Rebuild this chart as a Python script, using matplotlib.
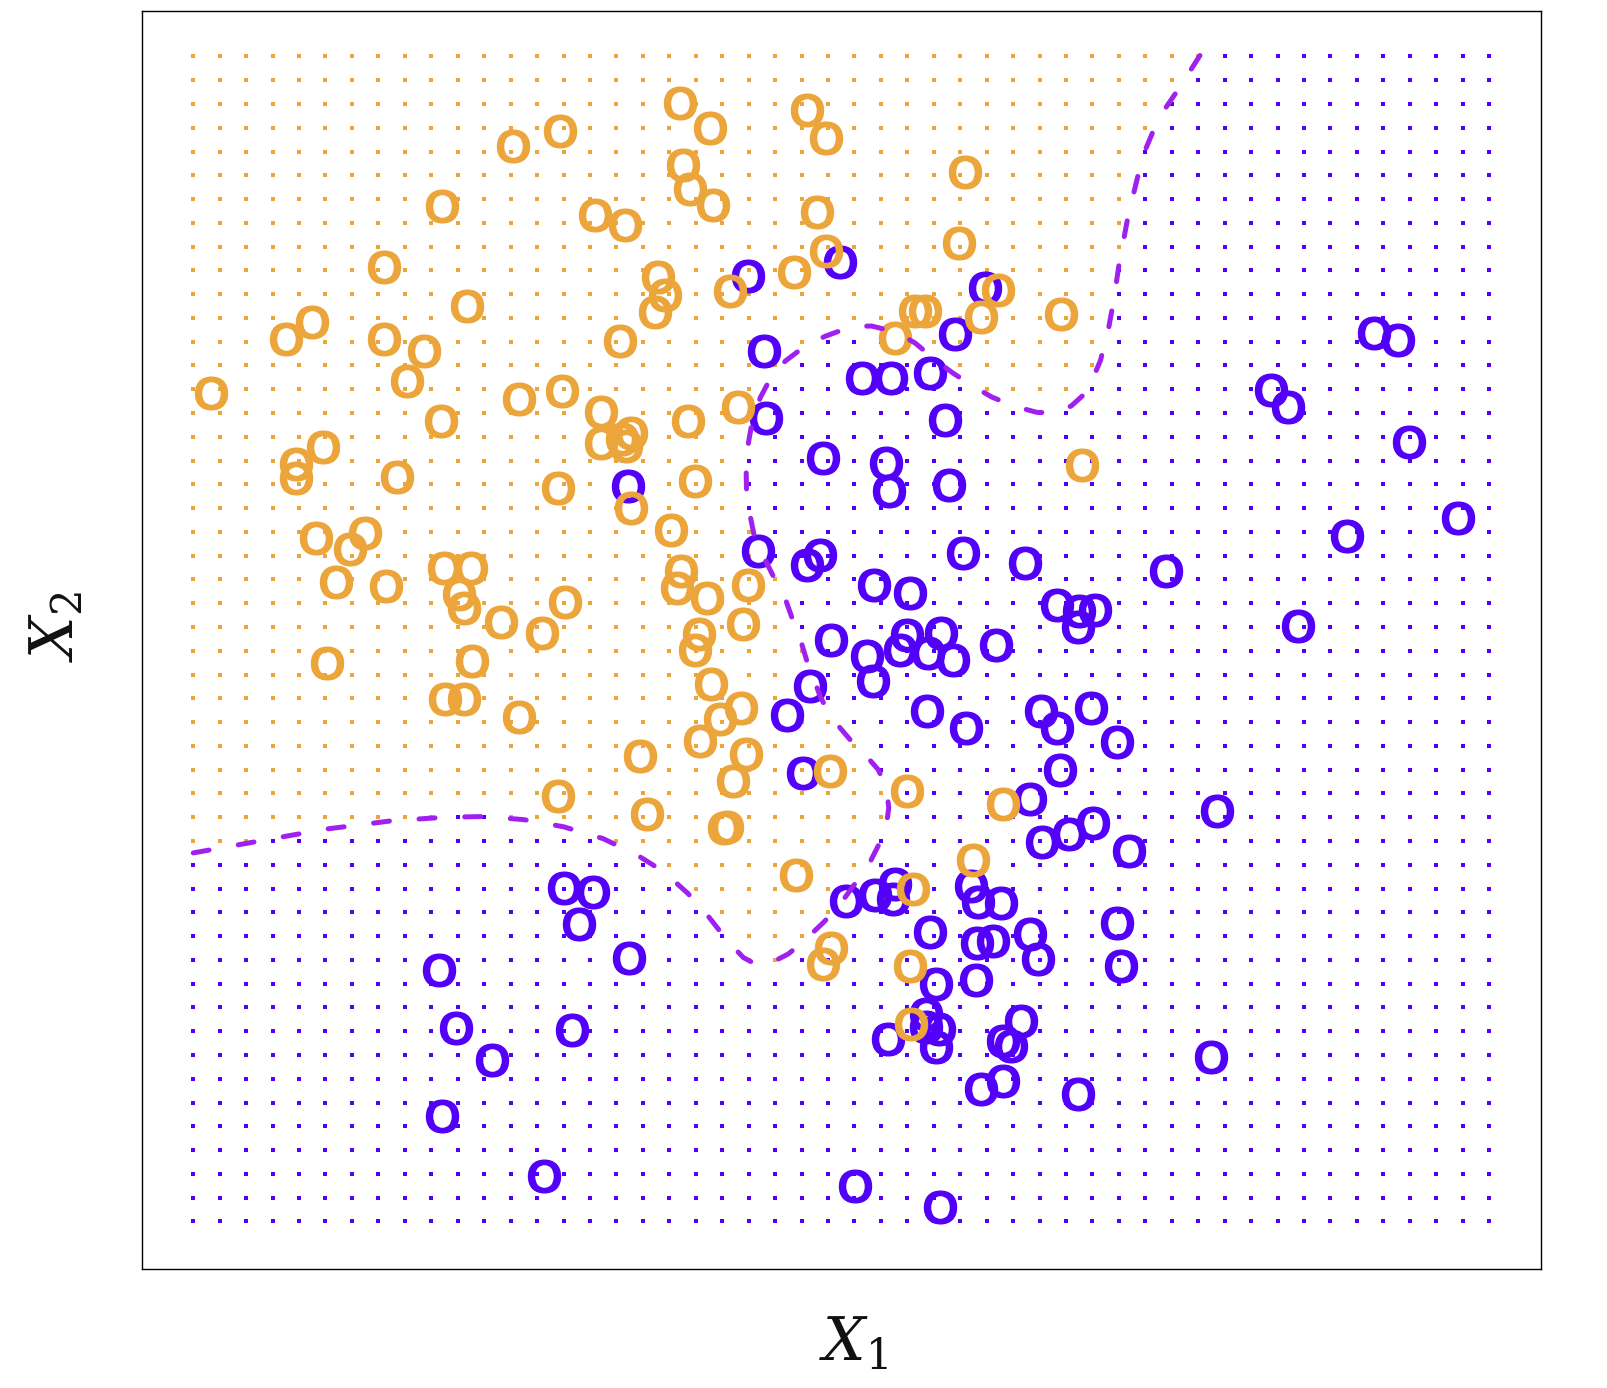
import numpy as np
import matplotlib
matplotlib.use("Agg")
import matplotlib.pyplot as plt
from matplotlib.path import Path
from matplotlib.textpath import TextPath
from matplotlib.font_manager import FontProperties
from matplotlib.transforms import Affine2D

plt.rcParams["mathtext.fontset"] = "dejavuserif"
plt.rcParams["lines.scale_dashes"] = False

ORANGE = "#EBA53A"
BLUE = "#5300F8"
PURPLE = "#A020F0"

# 50 x 50 prediction grid (grid units; X2 counted downward from the top row)
grid_x1 = np.arange(50)
grid_x2 = np.arange(50)

orange_x1 = [0.68, 3.51, 4.48, 7.23, 7.23, 8.71, 8.09, 9.41, 10.34, 12.08, 9.37, 12.31,
             3.9, 3.9, 4.9, 7.69, 4.63, 5.91, 6.49, 5.41, 7.27, 9.48, 10.49, 10.06, 10.22,
             11.65, 5.06, 10.53, 9.52, 10.22, 12.31,
             32.82, 33.6,
             13.86, 18.42, 19.53, 23.19, 23.91, 18.5, 18.78, 19.66, 15.18, 16.34, 23.57, 29.2,
             28.95, 23.91, 22.71, 17.58, 17.83, 17.45, 20.31, 16.13, 27.28, 27.66, 26.55, 29.8,
             30.43,
             13.96, 15.41, 15.41, 16.57, 16.36, 16.2, 18.71, 20.6, 13.8, 18.97, 16.57, 18.08,
             18.46, 18.31, 19.44, 20.98, 14.05, 13.17, 19.13, 18.97, 20.79, 19.56, 20.7, 19.91,
             19.15, 16.89, 20.89, 20.41, 13.8, 17.14, 20.05, 20.2, 24.07, 26.97, 30.6,
             22.8, 27.21, 29.48, 24.13, 23.81, 27.11, 27.15]
orange_x2 = [14.17, 11.88, 11.19, 8.86, 11.88, 12.4, 13.65, 6.31, 10.5, 3.76, 15.33, 14.43,
             17.15, 17.75, 16.41, 17.71, 20.25, 20.73, 20.04, 22.11, 22.28, 21.5, 21.5, 22.59,
             23.19, 23.79, 25.52, 25.43, 27.03, 27.03, 27.77,
             10.84, 17.19,
             3.14, 1.98, 3.03, 2.26, 3.45, 4.57, 5.59, 6.25, 6.67, 7.09, 6.56, 4.88,
             7.83, 8.18, 9.08, 9.26, 10.03, 10.76, 9.87, 11.97, 10.69, 10.69, 11.85, 10.94,
             9.82,
             14.09, 14.97, 16.24, 15.82, 16.38, 16.1, 15.35, 14.75, 18.15, 17.87, 19.0, 19.93,
             21.66, 22.36, 22.78, 22.22, 22.96, 24.27, 24.31, 24.95, 23.87, 26.38, 27.4, 27.86,
             28.8, 29.43, 29.36, 30.48, 31.11, 31.88, 32.45, 32.4, 30.06, 30.9, 31.46,
             34.44, 35.03, 33.8, 37.48, 38.18, 38.25, 40.7]

blue_x1 = [20.98, 24.47, 29.95, 28.82, 21.57,
           25.27, 26.4, 27.85, 21.67, 28.42, 23.82, 26.21, 26.31, 28.58, 16.42, 21.36, 23.69,
           23.19, 29.11, 31.44, 25.73, 27.12, 26.97, 28.29, 26.72, 27.79, 28.73, 25.46, 25.71,
           24.11, 30.35, 23.31, 22.46, 27.76, 29.21, 23.04, 31.63,
           32.05, 32.67, 33.95, 34.92, 32.78, 32.67, 33.48, 34.1, 33.44, 36.78, 38.72, 38.49,
           40.77, 41.39, 44.65, 45.54, 45.97, 47.83, 43.62, 41.78,
           14.02, 15.1, 14.6, 16.46, 9.29, 9.95, 14.33, 11.3, 9.4, 13.28, 25.03, 28.25,
           24.69, 25.76, 26.52, 26.46, 29.39, 29.67, 30.55, 32.1, 33.11, 34.02, 35.38, 27.87,
           29.63, 30.24, 31.65, 31.94, 34.94, 35.09, 29.61, 28.07, 27.69, 27.72, 28.2, 28.1,
           26.27, 31.31, 30.62, 30.93, 30.62, 29.8, 33.45]
blue_x2 = [9.24, 8.66, 9.75, 11.67, 12.41,
           13.53, 13.53, 13.32, 15.21, 15.28, 16.89, 17.1, 18.29, 18.01, 18.08, 20.82, 20.96,
           21.38, 20.89, 21.31, 22.22, 22.57, 24.32, 24.25, 24.95, 25.09, 25.37, 25.23, 26.28,
           24.53, 24.74, 26.49, 27.72, 27.54, 28.24, 30.13, 31.25,
           27.55, 28.24, 27.42, 28.84, 30.01, 23.06, 23.32, 23.28, 24.01, 21.64, 31.74, 42.1,
           14.04, 14.73, 11.62, 11.92, 16.2, 19.43, 20.17, 23.97,
           34.96, 35.13, 36.49, 37.91, 38.43, 40.85, 40.94, 42.23, 44.56, 47.07, 47.5, 48.41,
           35.52, 35.28, 34.82, 35.45, 34.89, 35.56, 35.59, 33.04, 32.72, 32.23, 33.42, 36.82,
           37.3, 37.2, 36.92, 37.97, 36.43, 38.25, 38.85, 39.02, 40.28, 40.84, 40.89, 41.68,
           41.33, 40.56, 41.4, 41.61, 43.08, 43.43, 43.64]

# Bayes decision boundary (grid units)
boundary_x1 = [0.0, 2.5, 5.0, 7.5, 9.5, 11.0, 12.5, 14.0, 15.5, 16.8, 17.8, 18.7, 19.5,
               20.2, 20.8, 21.3, 21.8, 22.5, 23.1, 23.85, 24.4, 24.95, 25.45, 25.9, 26.2,
               26.3, 26.2, 25.9, 25.55, 25.0, 24.35, 23.95, 23.7, 23.5, 23.25, 22.95, 22.7,
               22.35, 21.95, 21.5, 21.2, 21.0, 20.92, 20.9, 21.0, 21.17, 21.45, 21.93, 22.4,
               23.25, 23.92, 24.9, 25.65, 26.6, 27.3, 28.1, 28.7, 29.5, 30.2, 31.06, 31.9,
               32.6, 33.2, 33.8, 34.3, 34.6, 34.8, 35.0, 35.3, 35.55, 35.9, 36.5, 37.3, 38.1]
boundary_x2 = [33.5, 33.0, 32.5, 32.15, 32.0, 31.97, 32.1, 32.4, 32.9, 33.6, 34.3, 35.2, 36.2,
               37.2, 37.9, 38.2, 38.15, 37.75, 37.2, 36.4, 35.75, 34.9, 34.2, 33.2, 32.4,
               31.6, 30.7, 30.0, 29.55, 28.95, 28.1, 27.45, 26.9, 26.3, 25.6, 24.5, 23.8,
               22.7, 21.9, 20.9, 20.1, 19.0, 18.2, 17.1, 16.2, 15.14, 14.33, 13.32, 12.8,
               12.09, 11.76, 11.36, 11.34, 11.6, 12.06, 12.8, 13.3, 13.88, 14.33, 14.72, 14.97,
               15.0, 14.7, 14.1, 12.8, 11.5, 10.3, 8.8, 7.0, 5.8, 4.2, 2.6, 1.3, -0.1]

fig = plt.figure(figsize=(16.08, 13.88), dpi=100)
ax = fig.add_axes([0.08812, 0.08573, 0.87002, 0.90670])

# classify grid by the boundary
gx, gy = np.meshgrid(grid_x1, grid_x2)
gx = gx.ravel()
gy = gy.ravel()
poly_x = [-3.0] + boundary_x1 + [38.6, -3.0]
poly_y = [33.7] + boundary_x2 + [-3.0, -3.0]
region = Path(np.column_stack([poly_x, poly_y]))
is_orange = region.contains_points(np.column_stack([gx, gy]))

ax.scatter(gx[is_orange], gy[is_orange], s=5.0, marker="s", c=ORANGE, linewidths=0)
ax.scatter(gx[~is_orange], gy[~is_orange], s=5.0, marker="s", c=BLUE, linewidths=0)

# letter "o" marker, centred and slightly widened
tp = TextPath((0, 0), "o", size=10, prop=FontProperties(family="DejaVu Sans"))
bb = tp.get_extents()
w, h = bb.width, bb.height
o_marker = tp.transformed(Affine2D().translate(-bb.x0 - w / 2, -bb.y0 - h / 2)
                          .scale(0.98 * h / w, 1.0))
# marker normalisation uses the farthest control point; compensate for it
ctrl_ratio = np.max(np.abs(o_marker.vertices)) / (h / 2)
o_pts = 23.5 * ctrl_ratio

osz = o_pts ** 2
ax.scatter(blue_x1, blue_x2, s=osz, marker=o_marker, c=BLUE,
           edgecolors=BLUE, linewidths=1.0)
ax.scatter(orange_x1, orange_x2, s=osz, marker=o_marker, c=ORANGE,
           edgecolors=ORANGE, linewidths=1.0)

ax.plot(boundary_x1, boundary_x2, color=PURPLE, lw=3.6, linestyle=(0, (11.5, 21.4)),
        dash_capstyle="round", solid_capstyle="round")

ax.set_xlim(-1.95, 50.95)
ax.set_ylim(51.0, -1.93)
ax.set_xticks([])
ax.set_yticks([])
for sp in ax.spines.values():
    sp.set_linewidth(1.0)
    sp.set_color("black")

fig.text(854 / 1608, 1 - 1344 / 1388, r"$X_1$", fontsize=43, ha="center", va="center",
         color="#111111")
fig.text(57 / 1608, 1 - 627 / 1388, r"$X_2$", fontsize=43, ha="center", va="center",
         rotation=90, color="#111111")

fig.savefig("out.png", dpi=100)
